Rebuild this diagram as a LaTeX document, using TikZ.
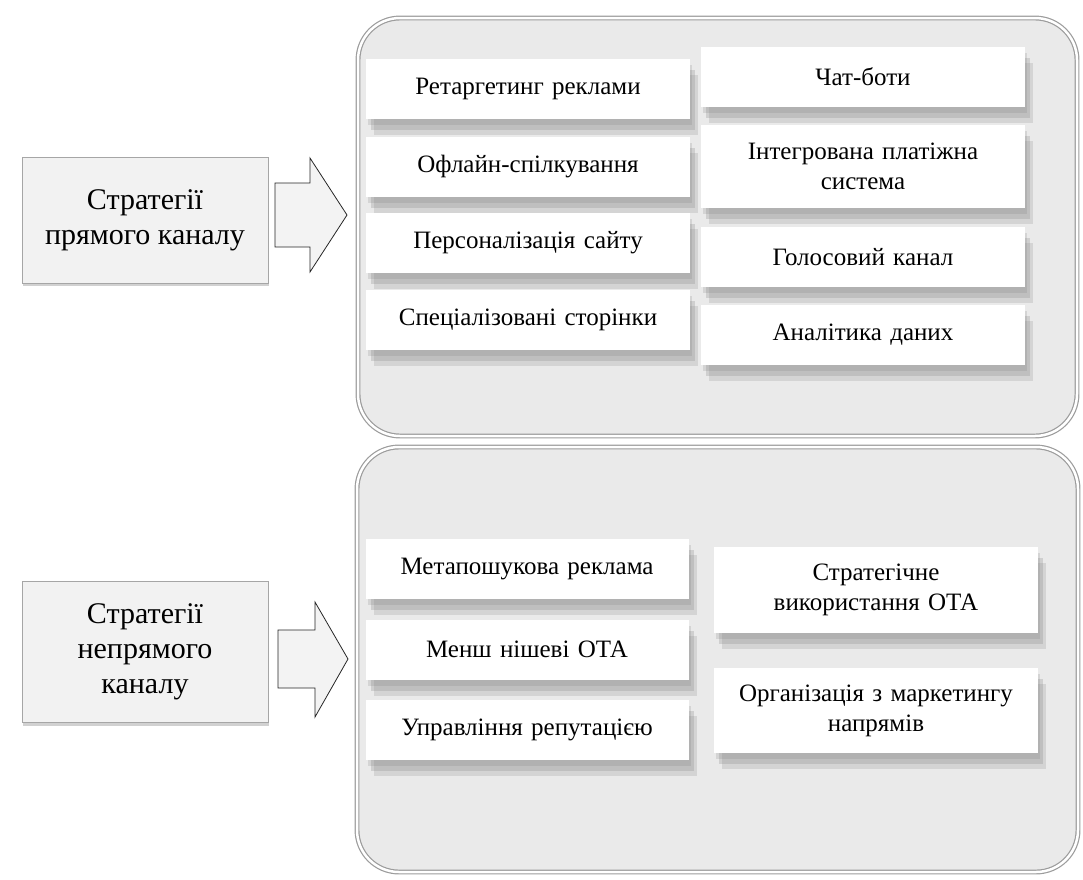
\documentclass[tikz,border=0pt]{standalone}
\usepackage{fontspec}
\setmainfont{Liberation Serif}
\usetikzlibrary{shadows}
\definecolor{panelfill}{HTML}{EAEAEA}
\definecolor{panelline}{HTML}{9C9C9C}
\definecolor{leftfill}{HTML}{F2F2F2}
\definecolor{arrowfill}{HTML}{F3F3F3}
\begin{document}
\begin{tikzpicture}[x=1pt,y=-1pt,
    panel/.style={draw=panelline, line width=1.2pt, double=white, double distance=2.5pt,
        fill=panelfill, rounded corners=42pt, inner sep=0pt},
    item/.style={fill=white, inner sep=2pt, align=center, text width=316pt,
        font=\fontsize{25}{30}\selectfont,
        drop shadow={shadow xshift=2pt, shadow yshift=-6pt, fill=gray, opacity=0.2},
        drop shadow={shadow xshift=5pt, shadow yshift=-11pt, fill=gray, opacity=0.25},
        drop shadow={shadow xshift=8pt, shadow yshift=-16pt, fill=gray, opacity=0.2}},
    chan/.style={draw=gray!70, line width=0.8pt, fill=leftfill, align=center,
        minimum width=246pt, font=\fontsize{30}{35}\selectfont,
        drop shadow={shadow xshift=1pt, shadow yshift=-3pt, fill=gray!60, opacity=0.6}},
    blockarrow/.style={draw=gray!30!black, line width=0.8pt, fill=arrowfill}]
    \useasboundingbox (0,0) rectangle (1083,879);

    % panels
    \node[panel, minimum width=719pt, minimum height=418pt] (direct) at (717.5,227) {};
    \node[panel, minimum width=721pt, minimum height=425pt] (indirect) at (717.5,659.5) {};

    % channel boxes
    \node[chan, minimum height=126pt] (dirchan) at (145,220) {Стратегії\\прямого каналу};
    \node[chan, minimum height=141pt] (indchan) at (145,652) {Стратегії\\непрямого\\каналу};

    % block arrows
    \draw[blockarrow] (275,183) -- (310,183) -- (310,158) -- (347,215)
        -- (310,272) -- (310,247) -- (275,247) -- cycle;
    \draw[blockarrow] (278,630) -- (315,630) -- (315,602) -- (348,659)
        -- (315,717) -- (315,688) -- (278,688) -- cycle;

    % direct channel strategies
    \foreach \y/\n/\t in {89/ret/Ретаргетинг реклами, 167/off/Офлайн-спілкування,
        243/pers/Персоналізація сайту, 320/spec/Спеціалізовані сторінки}
        \node[item, minimum width=324pt, minimum height=60pt] (\n) at (528,\y) {\t};
    \node[item, minimum width=324pt, minimum height=60pt] (chat) at (863,77) {Чат-боти};
    \node[item, minimum width=324pt, minimum height=83pt] (pay) at (863,166.5)
        {Інтегрована платіжна\\система};
    \node[item, minimum width=324pt, minimum height=60pt] (voice) at (863,257) {Голосовий канал};
    \node[item, minimum width=324pt, minimum height=60pt] (data) at (863,335) {Аналітика даних};

    % indirect channel strategies
    \foreach \y/\n/\t in {569/meta/Метапошукова реклама, 649.5/niche/Менш нішеві ОТА,
        730/rep/Управління репутацією}
        \node[item, minimum width=323pt, minimum height=60pt] (\n) at (527,\y) {\t};
    \node[item, minimum width=324pt, minimum height=86pt] (ota) at (876,590)
        {Стратегічне\\використання ОТА};
    \node[item, minimum width=324pt, minimum height=85pt] (dmo) at (876,710.5)
        {Організація з маркетингу\\напрямів};
\end{tikzpicture}
\end{document}
